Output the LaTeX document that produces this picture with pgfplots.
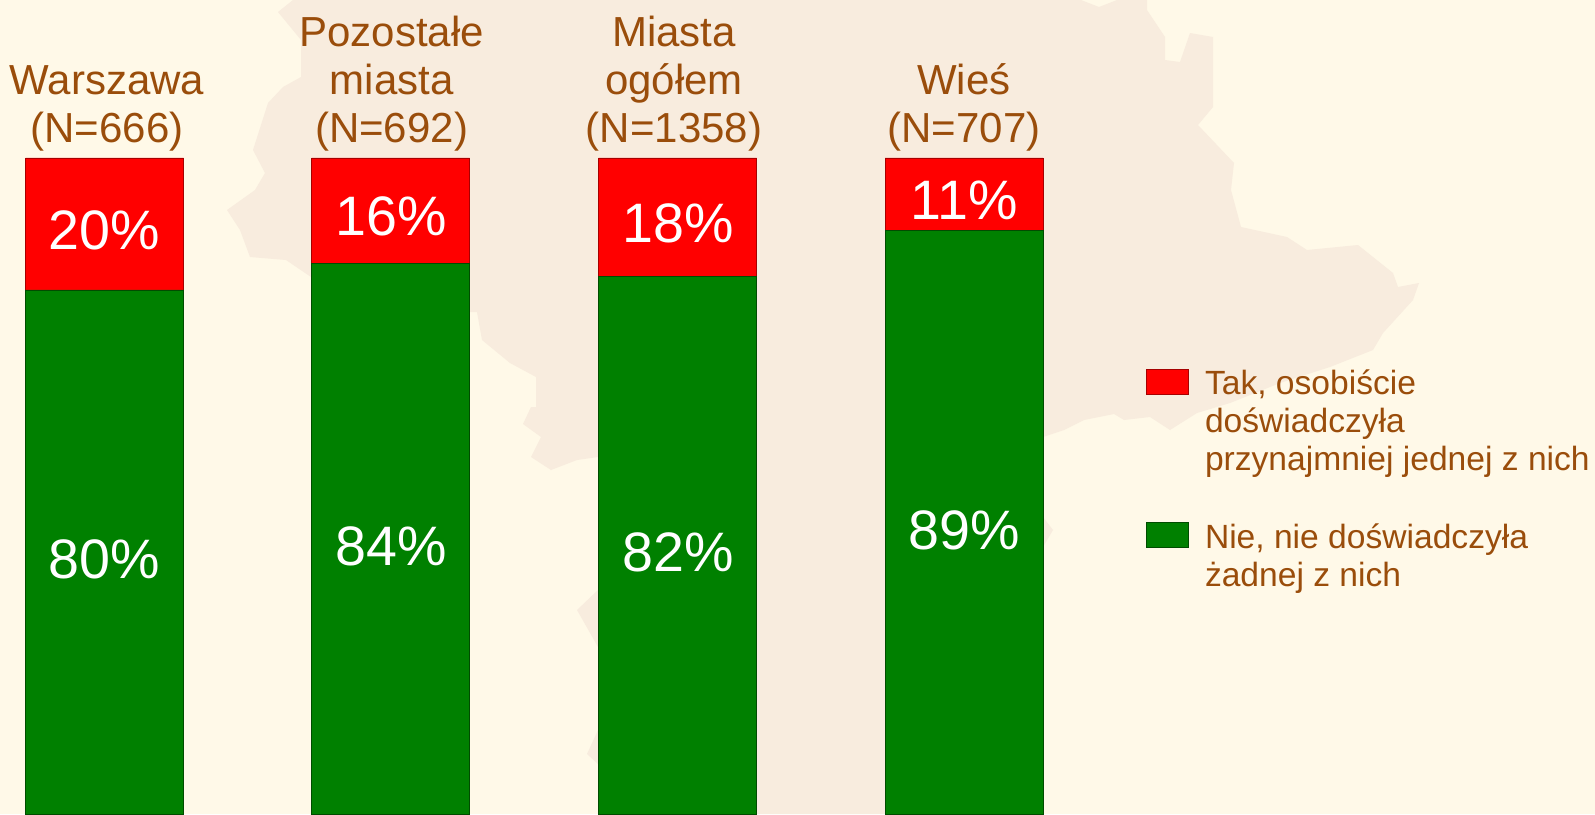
\documentclass[border=0pt]{standalone}
\usepackage{pgfplots}
\pgfplotsset{compat=1.18}
\usepackage{fontspec}
\setmainfont{Liberation Sans}
\definecolor{bgc}{HTML}{FFF9E8}
\definecolor{mapc}{HTML}{F8ECDE}
\definecolor{txt}{HTML}{9A4D0B}
\definecolor{barred}{HTML}{FF0000}
\definecolor{bargreen}{HTML}{008000}
\begin{document}
\begin{tikzpicture}
\useasboundingbox (0pt,0pt) rectangle (797.5pt,407pt);
% background with the map silhouette, coordinates in image pixels
\begin{axis}[
  at={(0pt,0pt)}, anchor=south west, scale only axis,
  width=797.5pt, height=407pt,
  xmin=0, xmax=1595, ymin=0, ymax=814, y dir=reverse,
  axis line style={draw=none}, ticks=none,
  axis background/.style={fill=bgc}]
\addplot[fill=mapc, draw=none] coordinates {
 (293,0)(278,12)(301,40)(301,77)(283,87)(268,103)(253,150)(265,173)(255,190)(227,210)
 (240,230)(250,257)(286,260)(311,277)(469,312)(477,312)(482,340)(510,363)(536,377)(536,407)
 (531,407)(523,424)(541,437)(531,457)(551,470)(577,460)(598,457)(650,500)(598,590)(577,610)
 (598,647)(640,690)(598,730)(587,754)(598,764)(640,814)(1000,814)(1043,547)(1053,530)(1043,517)
 (1043,437)(1064,430)(1084,420)(1114,414)(1124,420)(1150,417)(1170,430)(1197,413)(1230,403)
 (1280,383)(1330,367)(1373,350)(1383,333)(1413,300)(1419,283)(1398,287)(1393,273)(1358,245)
 (1307,250)(1287,237)(1241,227)(1231,190)(1234,163)(1198,125)(1213,107)(1213,37)(1190,33)
 (1180,62)(1165,60)(1165,37)(1147,10)(1147,0)(1117,0)(1099,7)(1081,0)
} -- cycle;
\end{axis}
% bars: 100% sits at pixel row 158, 0% just below the picture
\begin{axis}[
  at={(0pt,0pt)}, anchor=south west, scale only axis,
  width=797.5pt, height=328pt,
  xmin=0, xmax=1595, ymin=0.6, ymax=100,
  ybar stacked, bar width=79pt,
  axis line style={draw=none}, tick style={draw=none}, major tick length=0pt,
  ytick=\empty,
  xtick={107,391.6,674,964},
  xticklabels={{Warszawa\\(N=666)},{Pozostałe\\miasta\\(N=692)},{Miasta\\ogółem\\(N=1358)},{Wieś\\(N=707)}},
  xticklabel pos=upper,
  x tick label style={align=center, anchor=south, inner sep=0pt, yshift=3.4pt,
     text=txt, font=\fontsize{21}{24}\selectfont},
  reverse legend,
  legend cell align=left,
  legend style={at={(axis cs:1146,68.15)}, anchor=north west, draw=none, fill=none,
     inner sep=0pt, column sep=8pt, row sep=62.6pt,
     nodes={inner sep=0pt, text=txt, font=\fontsize{16.8}{19}\selectfont}},
  legend image code/.code={\path[#1] (0pt,-5.25pt) rectangle (21pt,7.25pt);},
]
\addplot[fill=bargreen, draw=green!30!black, line width=0.3pt] coordinates {(104.5,80)(390.7,84)(677.5,82)(964,89)};
\addlegendentry{\parbox[t]{193pt}{\raggedright Nie, nie doświadczyła\\żadnej z nich}}
\addplot[fill=barred, draw=red!65!black, line width=0.3pt] coordinates {(104.5,20)(390.7,16)(677.5,18)(964,11)};
\addlegendentry{\parbox[t]{193pt}{\raggedright Tak, osobiście\\doświadczyła\\przynajmniej jednej z nich}}
\end{axis}
% share labels above the bars
\begin{axis}[
  at={(0pt,0pt)}, anchor=south west, scale only axis,
  width=797.5pt, height=328pt,
  xmin=0, xmax=1595, ymin=0.6, ymax=100,
  axis line style={draw=none}, ticks=none, clip=false,
  point meta=explicit symbolic,
  nodes near coords={\pgfplotspointmeta},
  every node near coord/.style={anchor=base, inner sep=0pt, text=white,
     font=\fontsize{27.8}{30}\selectfont},
]
\addplot[only marks, mark=none] coordinates {
 (104.6,86.2)[20\%] (391.6,88.2)[16\%] (678.6,87.2)[18\%] (964,90.7)[11\%]
 (104.6,36.3)[80\%] (391.6,38.3)[84\%] (678.6,37.3)[82\%] (964,40.7)[89\%]
};
\end{axis}
\end{tikzpicture}
\end{document}
